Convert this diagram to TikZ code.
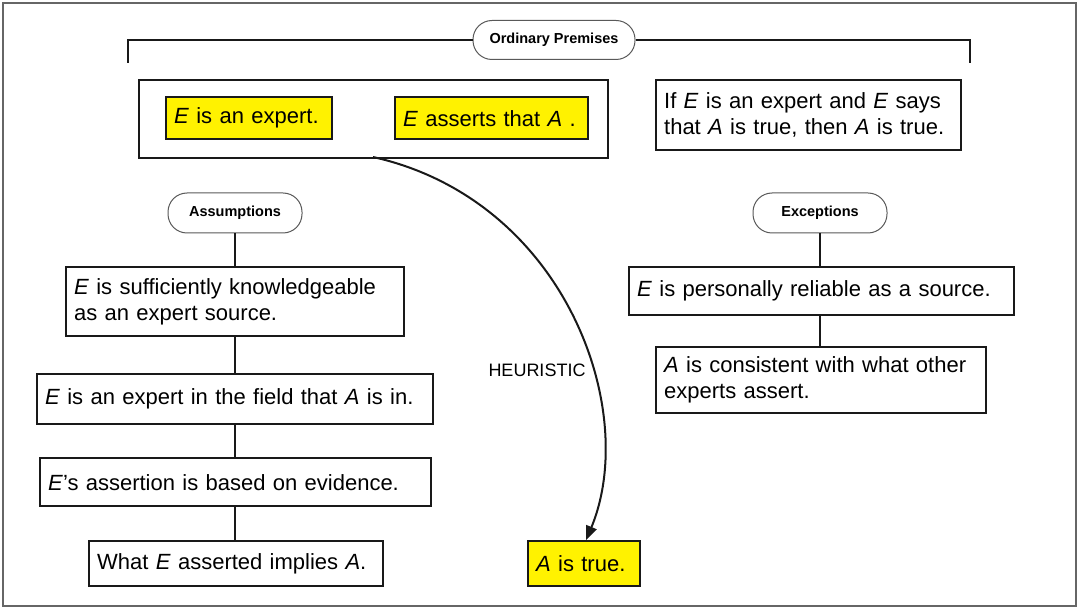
\documentclass[tikz,border=0pt]{standalone}
\usepackage{fontspec}
\setmainfont{Liberation Sans}
\usetikzlibrary{arrows.meta}
\tikzset{
  txtbox/.style={draw=black!90, line width=2.3pt, anchor=north west, align=left,
    inner xsep=8pt, inner ysep=0pt, font=\fontsize{22}{26}\selectfont},
  hlbox/.style={txtbox, fill=yellow},
  pill/.style={draw=black!65, line width=1pt, rounded corners=19pt, fill=white,
    minimum height=39pt, inner sep=0pt, font=\fontsize{14.5}{16}\selectfont\bfseries},
  conn/.style={draw=black!90, line width=2pt},
  brk/.style={draw=black!90, line width=2.3pt},
}
\begin{document}
\begin{tikzpicture}[x=1pt,y=-1pt]
\useasboundingbox (0,0) rectangle (1079,609);
\draw[black!60, line width=1.2pt] (3,3) rectangle (1076,606);

% Ordinary premises
\node[pill, minimum width=162pt] (op) at (554,40) {Ordinary Premises};
\coordinate (bl) at (128,63);
\coordinate (br) at (970,63);
\draw[brk] (bl) -- (bl |- op.west) -- (op.west);
\draw[brk] (op.east) -- (br |- op.east) -- (br);

\node[txtbox, minimum width=469pt, minimum height=78pt] (group) at (138,79) {};
\node[hlbox, text width=150pt, minimum height=42pt] (y1) at (165,96) {\textit{E} is an expert.};
\node[hlbox, text width=177pt, minimum height=42pt] (y2) at (394,96) {\textit{E} asserts that \textit{A} .};
\node[txtbox, text width=289pt, minimum height=70pt] (rule) at (655,79)
  {If \textit{E} is an expert and \textit{E} says\\that \textit{A} is true, then \textit{A} is true.};

% Assumptions
\node[pill, minimum width=134pt, minimum height=40pt] (assump) at (235,213) {Assumptions};
\node[txtbox, text width=322pt, minimum height=69pt] (a1) at (65,266)
  {\textit{E} is sufficiently knowledgeable\\as an expert source.};
\node[txtbox, text width=380pt, minimum height=50pt] (a2) at (36,373)
  {\textit{E} is an expert in the field that \textit{A} is in.};
\node[txtbox, text width=375pt, minimum height=48pt] (a3) at (39,457)
  {\textit{E}'s assertion is based on evidence.};
\node[txtbox, text width=278pt, minimum height=45pt] (a4) at (88,540)
  {What \textit{E} asserted implies \textit{A}.};
\draw[conn] (assump.south) -- (assump.south |- a1.north);
\draw[conn] (a1.south -| assump) -- (a2.north -| assump);
\draw[conn] (a2.south -| assump) -- (a3.north -| assump);
\draw[conn] (a3.south -| assump) -- (a4.north -| assump);

% Exceptions
\node[pill, minimum width=134pt, minimum height=40pt] (exc) at (820,213) {Exceptions};
\node[txtbox, text width=369pt, minimum height=48pt] (x1) at (628,266)
  {\textit{E} is personally reliable as a source.};
\node[txtbox, text width=314pt, minimum height=66pt] (x2) at (655,346)
  {\textit{A} is consistent with what other\\experts assert.};
\draw[conn] (exc.south) -- (exc.south |- x1.north);
\draw[conn] (x1.south -| exc) -- (x2.north -| exc);

% Conclusion
\node[hlbox, text width=96pt, minimum height=45pt] (true) at (527,540) {\textit{A} is true.};
\coordinate (cstart) at (373,157);
\draw[black!90, line width=2pt, -{Triangle[length=14pt,width=11pt]}]
  (cstart) .. controls (565,200) and (640,410) .. ([xshift=2pt]true.north);
\node[font=\fontsize{18}{20}\selectfont] (heur) at (537,370) {HEURISTIC};
\end{tikzpicture}
\end{document}
